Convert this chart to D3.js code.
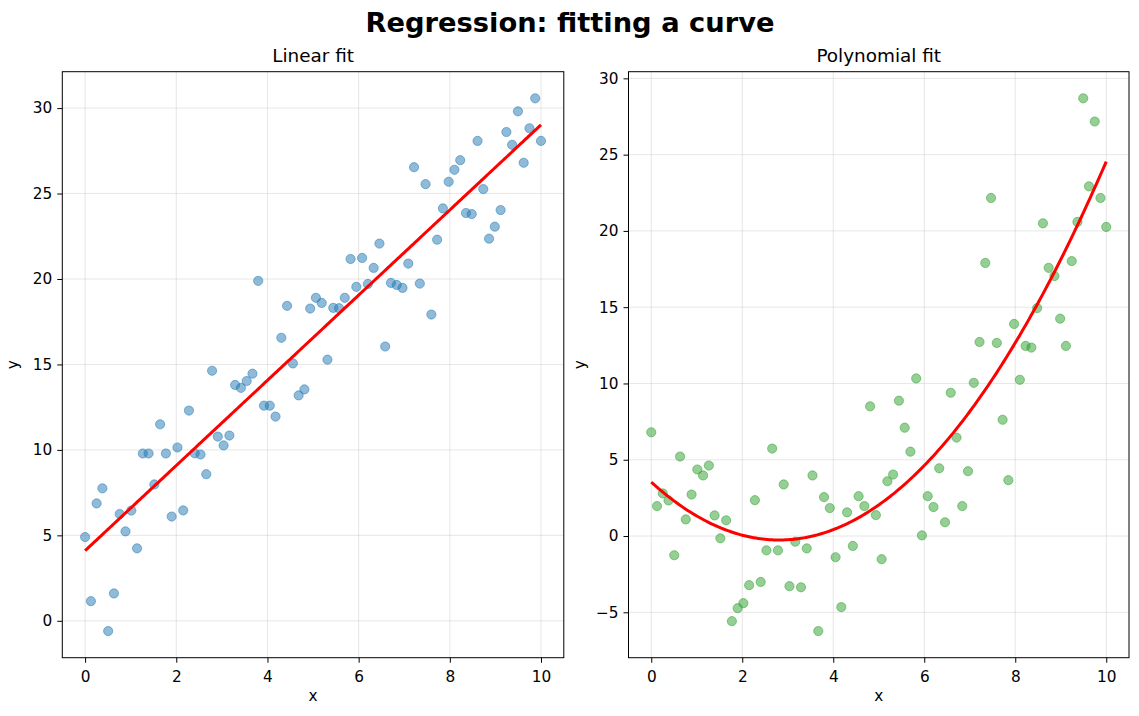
<!DOCTYPE html>
<html><head><meta charset="utf-8">
<script src="https://cdn.jsdelivr.net/npm/d3@7"></script>
<style>body{margin:0;background:#fff} text{font-family:"DejaVu Sans",sans-serif;fill:#000}</style>
</head><body><svg id="c" width="1139" height="716"></svg>
<script>
// ---- data ----
const xValues = [0,0.127,0.253,0.380,0.506,0.633,0.759,0.886,1.013,1.139,1.266,1.392,1.519,1.646,1.772,1.899,2.025,2.152,2.278,2.405,2.532,2.658,2.785,2.911,3.038,3.165,3.291,3.418,3.544,3.671,3.797,3.924,4.051,4.177,4.304,4.430,4.557,4.684,4.810,4.937,5.063,5.190,5.316,5.443,5.570,5.696,5.823,5.949,6.076,6.203,6.329,6.456,6.582,6.709,6.835,6.962,7.089,7.215,7.342,7.468,7.595,7.722,7.848,7.975,8.101,8.228,8.354,8.481,8.608,8.734,8.861,8.987,9.114,9.241,9.367,9.494,9.620,9.747,9.873,10];
const linearY = [4.9,1.15,6.87,7.75,-0.6,1.6,6.25,5.23,6.45,4.24,9.79,9.79,7.98,11.5,9.79,6.1,10.14,6.46,12.3,9.8,9.73,8.58,14.63,10.78,10.26,10.84,13.8,13.63,14.03,14.46,19.89,12.59,12.59,11.95,16.56,18.43,15.06,13.19,13.54,18.27,18.9,18.6,15.28,18.31,18.29,18.9,21.17,19.54,21.23,19.71,20.65,22.07,16.05,19.77,19.65,19.48,20.9,26.54,19.73,25.55,17.92,22.3,24.13,25.69,26.39,26.95,23.86,23.8,28.08,25.26,22.36,23.06,24.03,28.6,27.85,29.81,26.8,28.82,30.57,28.08];
const polyY = [6.8,1.96,2.79,2.33,-1.26,5.21,1.09,2.72,4.36,3.97,4.62,1.35,-0.15,1.03,-5.58,-4.73,-4.4,-3.22,2.35,-3.01,-0.94,5.73,-0.94,3.38,-3.29,-0.37,-3.36,-0.81,3.97,-6.23,2.55,1.83,-1.39,-4.66,1.55,-0.65,2.61,1.96,8.5,1.37,-1.52,3.59,4.03,8.87,7.1,5.53,10.33,0.04,2.61,1.9,4.44,0.9,9.39,6.45,1.96,4.25,10.04,12.72,17.9,22.16,12.66,7.62,3.66,13.9,10.24,12.46,12.35,14.94,20.5,17.58,17.04,14.25,12.46,18.02,20.59,28.69,22.92,27.17,22.16,20.26];
const xTicks = [0,2,4,6,8,10];
const linearYTicks = [0,5,10,15,20,25,30];
const polyYTicks = [-5,0,5,10,15,20,25,30];
const figTitle = "Regression: fitting a curve";
const panelTitles = ["Linear fit","Polynomial fit"];
const panelDegrees = [1,2];
const pointColors = ["#1f77b4","#2ca02c"];
const fitColor = "red";

// ---- least squares polynomial fit ----
function polyfit(xs, ys, deg){
  const n = deg+1;
  const A = Array.from({length:n},()=>new Array(n+1).fill(0));
  for(let k=0;k<xs.length;k++){
    for(let i=0;i<n;i++){
      for(let j=0;j<n;j++) A[i][j]+=Math.pow(xs[k],i+j);
      A[i][n]+=ys[k]*Math.pow(xs[k],i);
    }
  }
  for(let i=0;i<n;i++){
    let p=i; for(let r=i+1;r<n;r++) if(Math.abs(A[r][i])>Math.abs(A[p][i])) p=r;
    [A[i],A[p]]=[A[p],A[i]];
    for(let r=0;r<n;r++){ if(r===i) continue; const f=A[r][i]/A[i][i]; for(let c=i;c<=n;c++) A[r][c]-=f*A[i][c]; }
  }
  return A.map((row,i)=>row[n]/row[i]);
}

const svg = d3.select("#c");
svg.append("text").attr("x",570).attr("y",32.3).attr("text-anchor","middle")
  .attr("font-size","27.3px").attr("font-weight","bold").text(figTitle);

const panels = [
  {left:62.3,right:563.8,ys:linearY,ticks:linearYTicks},
  {left:628.5,right:1129,ys:polyY,ticks:polyYTicks}
];
const plotTop=71.7, plotBottom=657.7;
const tickFont="15.3px";

panels.forEach((p,pi)=>{
  const g = svg.append("g");
  const xExt = d3.extent(xValues), yExt = d3.extent(p.ys);
  const xm=(xExt[1]-xExt[0])*0.05, ym=(yExt[1]-yExt[0])*0.05;
  const x = d3.scaleLinear().domain([xExt[0]-xm,xExt[1]+xm]).range([p.left,p.right]);
  const y = d3.scaleLinear().domain([yExt[0]-ym,yExt[1]+ym]).range([plotBottom,plotTop]);

  // grid
  g.append("g").selectAll("line").data(xTicks).join("line")
    .attr("x1",d=>x(d)).attr("x2",d=>x(d)).attr("y1",plotTop).attr("y2",plotBottom)
    .attr("stroke","#b0b0b0").attr("stroke-opacity",0.3).attr("stroke-width",1);
  g.append("g").selectAll("line").data(p.ticks).join("line")
    .attr("y1",d=>y(d)).attr("y2",d=>y(d)).attr("x1",p.left).attr("x2",p.right)
    .attr("stroke","#b0b0b0").attr("stroke-opacity",0.3).attr("stroke-width",1);

  // points
  g.append("g").selectAll("circle").data(xValues.map((xv,i)=>[xv,p.ys[i]])).join("circle")
    .attr("cx",d=>x(d[0])).attr("cy",d=>y(d[1])).attr("r",4.6)
    .attr("fill",pointColors[pi]).attr("fill-opacity",0.5)
    .attr("stroke",pointColors[pi]).attr("stroke-opacity",0.5).attr("stroke-width",1);

  // fit
  const coef = polyfit(xValues, p.ys, panelDegrees[pi]);
  const fx = d3.range(0,201).map(i=>xExt[0]+(xExt[1]-xExt[0])*i/200);
  const line = d3.line().x(d=>x(d)).y(d=>y(coef.reduce((s,c,k)=>s+c*Math.pow(d,k),0)));
  g.append("path").datum(fx).attr("d",line).attr("fill","none")
    .attr("stroke",fitColor).attr("stroke-width",3);

  // axes
  const xa = g.append("g").attr("transform",`translate(0,${plotBottom})`)
    .call(d3.axisBottom(x).tickValues(xTicks).tickSize(5).tickPadding(8));
  const ya = g.append("g").attr("transform",`translate(${p.left},0)`)
    .call(d3.axisLeft(y).tickValues(p.ticks).tickSize(5).tickPadding(5));
  [xa,ya].forEach(a=>{a.select(".domain").remove();
    a.selectAll("text").attr("font-size",tickFont).attr("font-family","DejaVu Sans").attr("fill","#000");
    a.selectAll("line").attr("stroke","#000").attr("stroke-width",1);});
  g.append("rect").attr("x",p.left).attr("y",plotTop).attr("width",p.right-p.left).attr("height",plotBottom-plotTop)
    .attr("fill","none").attr("stroke","#000").attr("stroke-width",1);

  // titles
  const cx=(p.left+p.right)/2;
  g.append("text").attr("x",cx).attr("y",62).attr("text-anchor","middle").attr("font-size","18.4px").text(panelTitles[pi]);
  g.append("text").attr("x",cx).attr("y",701).attr("text-anchor","middle").attr("font-size",tickFont).text("x");
  g.append("text").attr("transform",`translate(${p.left-44},${(plotTop+plotBottom)/2}) rotate(-90)`)
    .attr("text-anchor","middle").attr("font-size",tickFont).text("y");
});
</script></body></html>
